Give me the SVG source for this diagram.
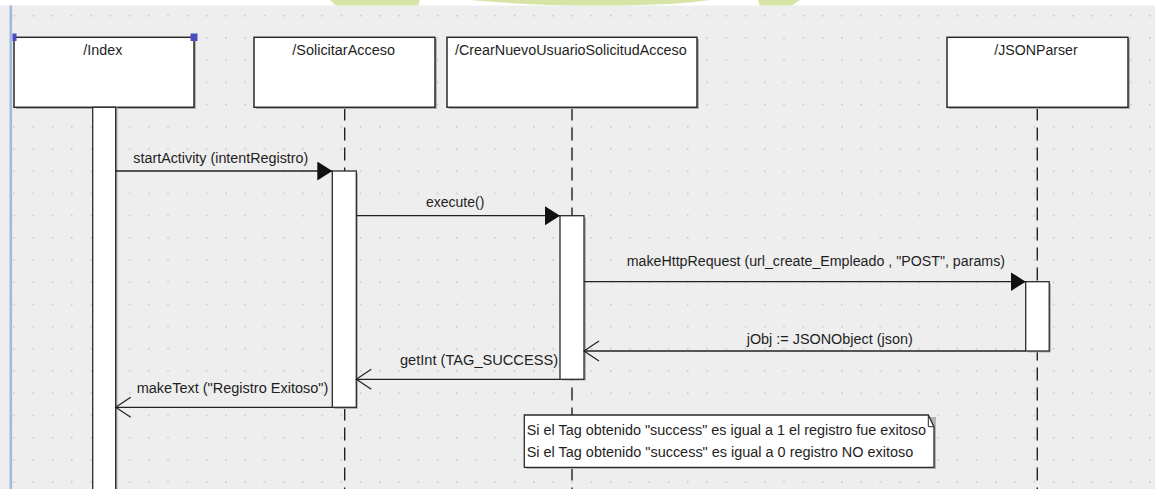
<svg xmlns="http://www.w3.org/2000/svg" width="1155" height="489" viewBox="0 0 1155 489">
  <defs>
    <!-- dotted drawing grid -->
    <pattern id="grid" patternUnits="userSpaceOnUse" x="13.3" y="15" width="19.25" height="22.2">
      <rect x="0" y="0" width="1.5" height="1.5" fill="#c4c4c4"/>
    </pattern>
    <!-- filled arrowhead for synchronous calls -->
    <marker id="solid" markerWidth="16" markerHeight="20" refX="15" refY="9.5" orient="auto" markerUnits="userSpaceOnUse">
      <path d="M0,0 L15,9.5 L0,19 Z" fill="#111"/>
    </marker>
    <!-- open arrowhead for return messages -->
    <marker id="open" markerWidth="18" markerHeight="24" refX="16" refY="11" orient="auto" markerUnits="userSpaceOnUse">
      <path d="M1,1 L16,11 L1,21" fill="none" stroke="#222" stroke-width="1.2"/>
    </marker>
  </defs>
  <style>
    .box { fill: #ffffff; stroke: #2a2a2a; stroke-width: 1.5; }
    .shadow { fill: #b4b4b4; }
    .bar { fill: #ffffff; stroke: #2a2a2a; stroke-width: 1.3; }
    .life { stroke: #222; stroke-width: 1.4; stroke-dasharray: 13 7; fill: none; }
    .msg { stroke: #222; stroke-width: 1.3; fill: none; }
    .t { font-family: "Liberation Sans", Arial, sans-serif; font-size: 15.5px; fill: #1e1e1e; }
    .handle { fill: #4c4cc2; }
  </style>

  <!-- canvas -->
  <rect x="0" y="0" width="1155" height="489" fill="#ffffff"/>
  <rect x="0" y="5.5" width="1155" height="483.5" fill="#eeeeee"/>
  <rect x="0" y="5.5" width="1155" height="483.5" fill="url(#grid)"/>
  <!-- green banner edge along the top -->
  <g fill="#d6e4a6">
    <path d="M330,0 L420,0 L418,5.5 L336,5.5 Z"/>
    <path d="M470,0 L710,0 C690,3 660,5.5 600,5.5 C540,5.5 505,3 470,0 Z"/>
    <path d="M758,0 L800,0 L792,5.5 L760,5.5 Z"/>
  </g>
  <!-- left margin rule -->
  <rect x="9.5" y="5.5" width="2.6" height="483.5" fill="#9fb9df"/>

  <!-- lifelines -->
  <g id="connectors-lifelines">
    <line class="life" x1="344.7" y1="107.5" x2="344.7" y2="489"/>
    <line class="life" x1="572" y1="107.5" x2="572" y2="489"/>
    <line class="life" x1="1037.3" y1="107.5" x2="1037.3" y2="489"/>
  </g>

  <g id="index">
    <rect class="shadow" x="16" y="39" width="180" height="70"/>
    <rect class="box" x="14" y="37.3" width="180" height="70"/>
    <text class="t" x="83.3" y="55" textLength="39" lengthAdjust="spacingAndGlyphs">/Index</text>
    <rect class="shadow" x="94.5" y="107.3" width="23" height="382"/>
    <rect class="bar" x="92.7" y="107.3" width="23" height="390"/>
    <rect class="handle" x="12.5" y="33.5" width="4" height="7.5"/>
    <rect class="handle" x="190.5" y="33.5" width="7" height="7.5"/>
  </g>

  <g id="solicitarAcceso">
    <rect class="shadow" x="256" y="39" width="181" height="70"/>
    <rect class="box" x="254" y="37.3" width="181" height="70"/>
    <text class="t" x="292.3" y="55" textLength="102.7" lengthAdjust="spacingAndGlyphs">/SolicitarAcceso</text>
    <rect class="shadow" x="334" y="173" width="24" height="236"/>
    <rect class="bar" x="332.3" y="171" width="24" height="236.3"/>
  </g>

  <g id="crearNuevoUsuario">
    <rect class="shadow" x="449" y="39" width="250" height="70"/>
    <rect class="box" x="447" y="37.3" width="250" height="70"/>
    <text class="t" x="455" y="55" textLength="231.7" lengthAdjust="spacingAndGlyphs">/CrearNuevoUsuarioSolicitudAcceso</text>
    <rect class="shadow" x="562" y="217.5" width="24" height="163"/>
    <rect class="bar" x="560" y="215.7" width="24" height="163.6"/>
  </g>

  <g id="jsonParser">
    <rect class="shadow" x="949" y="39" width="181" height="70"/>
    <rect class="box" x="947" y="37.3" width="181" height="70"/>
    <text class="t" x="994.3" y="55" textLength="83.4" lengthAdjust="spacingAndGlyphs">/JSONParser</text>
    <rect class="shadow" x="1027.5" y="283.5" width="23.5" height="69"/>
    <rect class="bar" x="1025.7" y="281.7" width="23.5" height="69.3"/>
  </g>

  <!-- messages -->
  <g id="connectors">
    <line class="msg" x1="115.7" y1="171" x2="332.3" y2="171" marker-end="url(#solid)"/>
    <line class="msg" x1="356.3" y1="215.7" x2="560" y2="215.7" marker-end="url(#solid)"/>
    <line class="msg" x1="584" y1="281.7" x2="1025.7" y2="281.7" marker-end="url(#solid)"/>
    <line class="msg" x1="1025.7" y1="351" x2="584" y2="351" marker-end="url(#open)"/>
    <line class="msg" x1="560" y1="379.3" x2="356.3" y2="379.3" marker-end="url(#open)"/>
    <line class="msg" x1="332.3" y1="407.3" x2="115.7" y2="407.3" marker-end="url(#open)"/>
  </g>

  <g id="message-labels">
    <text class="t" x="133.3" y="163" textLength="175" lengthAdjust="spacingAndGlyphs">startActivity (intentRegistro)</text>
    <text class="t" x="426" y="207" textLength="58.3" lengthAdjust="spacingAndGlyphs">execute()</text>
    <text class="t" x="626.7" y="266" textLength="378.3" lengthAdjust="spacingAndGlyphs">makeHttpRequest (url_create_Empleado , "POST", params)</text>
    <text class="t" x="746.7" y="344" textLength="166" lengthAdjust="spacingAndGlyphs">jObj := JSONObject (json)</text>
    <text class="t" x="400" y="365" textLength="158" lengthAdjust="spacingAndGlyphs">getInt (TAG_SUCCESS)</text>
    <text class="t" x="136.7" y="392.5" textLength="191.6" lengthAdjust="spacingAndGlyphs">makeText ("Registro Exitoso")</text>
  </g>

  <g id="note">
    <path d="M526,417 L936,417 L936,469 L526,469 Z" class="shadow"/>
    <path d="M524.3,415 L928.3,415 L934,426.7 L934,467.3 L524.3,467.3 Z" fill="#ffffff" stroke="#2a2a2a" stroke-width="1.3"/>
    <path d="M928.3,415 L928.3,426.7 L934,426.7" fill="none" stroke="#2a2a2a" stroke-width="1"/>
    <text class="t" x="526.7" y="435" textLength="399.3" lengthAdjust="spacingAndGlyphs">Si el Tag obtenido "success" es igual a 1 el registro fue exitoso</text>
    <text class="t" x="526.7" y="457" textLength="386.6" lengthAdjust="spacingAndGlyphs">Si el Tag obtenido "success" es igual a 0 registro NO exitoso</text>
  </g>
</svg>
